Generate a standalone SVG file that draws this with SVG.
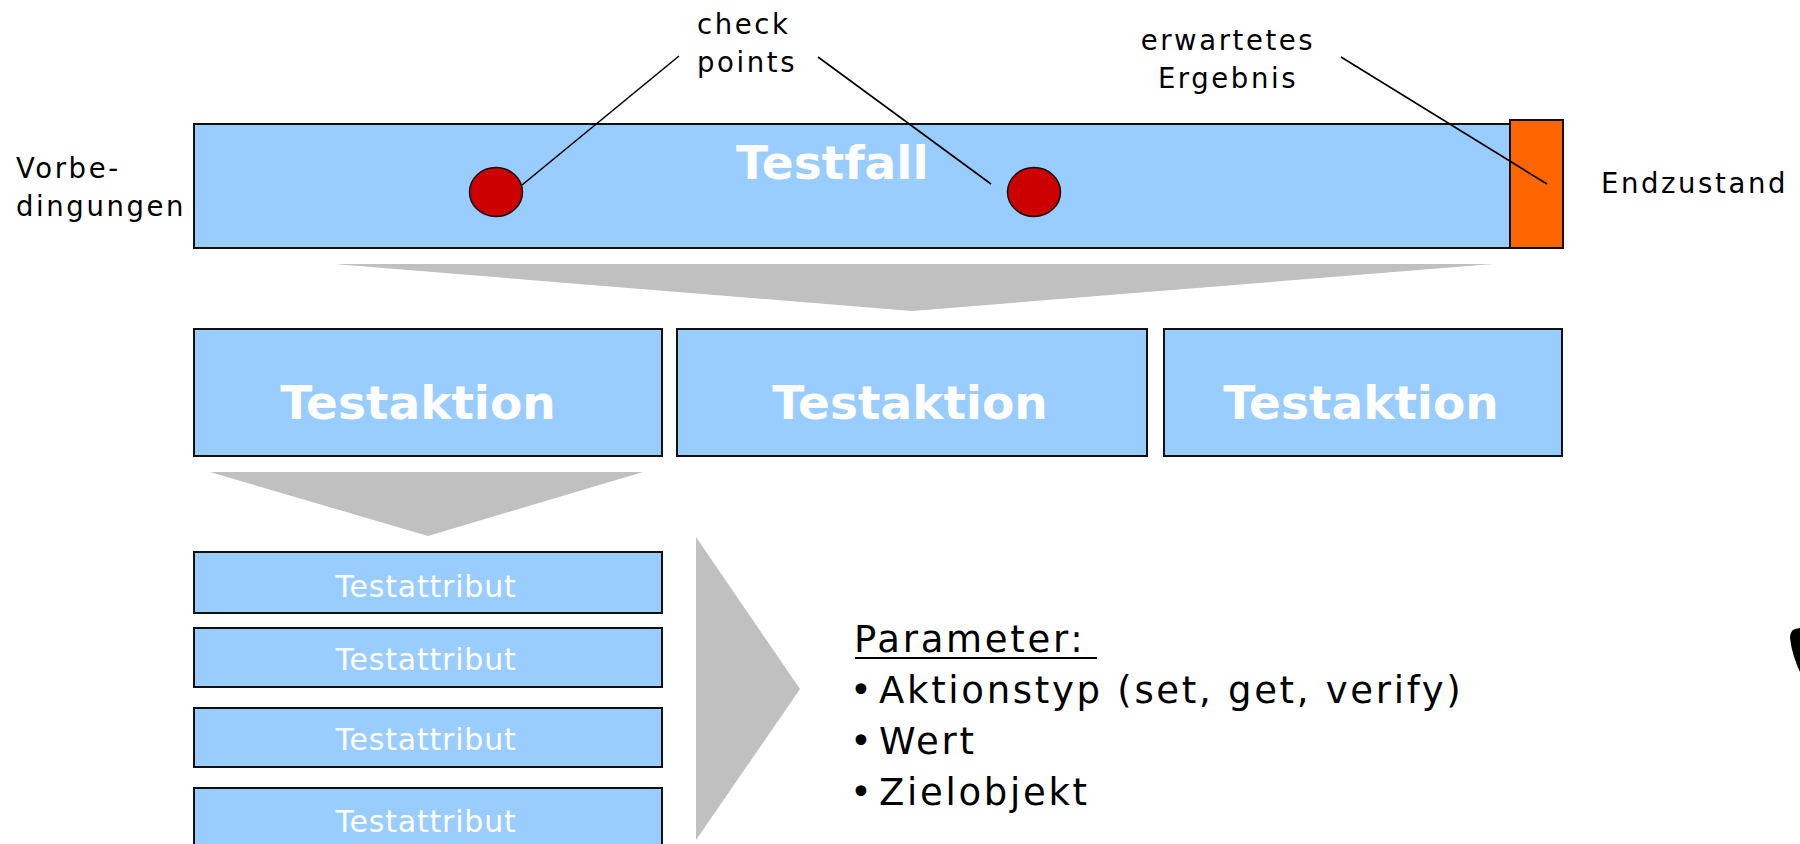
<svg xmlns="http://www.w3.org/2000/svg" width="1800" height="844" viewBox="0 0 1800 844">
  <style>
    .box { fill: #99CCFF; stroke: #111; stroke-width: 2; }
    .end { fill: #FF6600; stroke: #111; stroke-width: 2; }
    .cp { fill: #CC0000; stroke: #111; stroke-width: 1.5; }
    .funnel { fill: #C0C0C0; stroke: none; }
    .lead { stroke: #000; stroke-width: 1.6; fill: none; }
    .label { font-family: "DejaVu Sans", Verdana, sans-serif; font-size: 27.5px; letter-spacing: 2.6px; fill: #000; }
    .big { font-family: "DejaVu Sans", Verdana, sans-serif; font-size: 47px; font-weight: bold; fill: #fff; }
    .attr { font-family: "DejaVu Sans", Verdana, sans-serif; font-size: 30px; letter-spacing: 0.8px; fill: #fff; text-anchor: middle; }
    .param { font-family: "DejaVu Sans", Verdana, sans-serif; font-size: 37px; letter-spacing: 2.7px; fill: #000; }
  </style>

  <!-- funnel shapes between the levels -->
  <polygon class="funnel" points="334,264 1493,264 912,311"/>
  <polygon class="funnel" points="210,472 643,472 428,536"/>
  <polygon class="funnel" points="696,537 800,689 696,840"/>

  <!-- test case bar with check points and end state -->
  <g id="testfall">
    <rect class="box" x="194" y="124" width="1316" height="124"/>
    <text class="big" x="736" y="179">Testfall</text>
  </g>
  <g id="endzustand-block">
    <rect class="end" x="1510" y="120" width="53" height="128"/>
  </g>
  <g id="checkpoint-1">
    <ellipse class="cp" cx="496" cy="192" rx="26.5" ry="24.5"/>
  </g>
  <g id="checkpoint-2">
    <ellipse class="cp" cx="1034" cy="192" rx="26.5" ry="24.5"/>
  </g>

  <!-- side and callout labels -->
  <g id="vorbedingungen">
    <text class="label" x="16" y="178">Vorbe-</text>
    <text class="label" x="16" y="216">dingungen</text>
  </g>
  <g id="checkpoints-label">
    <text class="label" x="697" y="34">check</text>
    <text class="label" x="697" y="72">points</text>
  </g>
  <g id="ergebnis-label">
    <text class="label" x="1228" y="50" text-anchor="middle">erwartetes</text>
    <text class="label" x="1228" y="88" text-anchor="middle">Ergebnis</text>
  </g>
  <g id="endzustand-label">
    <text class="label" x="1601" y="193">Endzustand</text>
  </g>

  <!-- leader lines -->
  <g id="connectors">
    <line class="lead" x1="522" y1="185" x2="679" y2="56"/>
    <line class="lead" x1="818" y1="57" x2="991" y2="184"/>
    <line class="lead" x1="1341" y1="57" x2="1547" y2="184"/>
  </g>

  <!-- test actions -->
  <g id="testaktion-1">
    <rect class="box" x="194" y="329" width="468" height="127"/>
    <text class="big" x="418" y="419" text-anchor="middle">Testaktion</text>
  </g>
  <g id="testaktion-2">
    <rect class="box" x="677" y="329" width="470" height="127"/>
    <text class="big" x="910" y="419" text-anchor="middle">Testaktion</text>
  </g>
  <g id="testaktion-3">
    <rect class="box" x="1164" y="329" width="398" height="127"/>
    <text class="big" x="1361" y="419" text-anchor="middle">Testaktion</text>
  </g>

  <!-- test attributes -->
  <g id="testattribut-1">
    <rect class="box" x="194" y="552" width="468" height="61"/>
    <text class="attr" x="426" y="597">Testattribut</text>
  </g>
  <g id="testattribut-2">
    <rect class="box" x="194" y="628" width="468" height="59"/>
    <text class="attr" x="426" y="670">Testattribut</text>
  </g>
  <g id="testattribut-3">
    <rect class="box" x="194" y="708" width="468" height="59"/>
    <text class="attr" x="426" y="750">Testattribut</text>
  </g>
  <g id="testattribut-4">
    <rect class="box" x="194" y="788" width="468" height="70"/>
    <text class="attr" x="426" y="832">Testattribut</text>
  </g>

  <!-- parameter list -->
  <g id="parameter">
    <text class="param" x="854" y="652">Parameter:</text>
    <line x1="855" y1="658" x2="1097" y2="658" stroke="#000" stroke-width="2"/>
    <text class="param" x="850" y="703">•<tspan x="879">Aktionstyp (set, get, verify)</tspan></text>
    <text class="param" x="850" y="754">•<tspan x="879">Wert</tspan></text>
    <text class="param" x="850" y="805">•<tspan x="879">Zielobjekt</tspan></text>
  </g>

  <!-- dark shape cut by the right edge -->
  <path d="M1800,628 L1795,629 Q1790,631 1790,638 Q1792,655 1800,672 Z" fill="#000"/>
</svg>
